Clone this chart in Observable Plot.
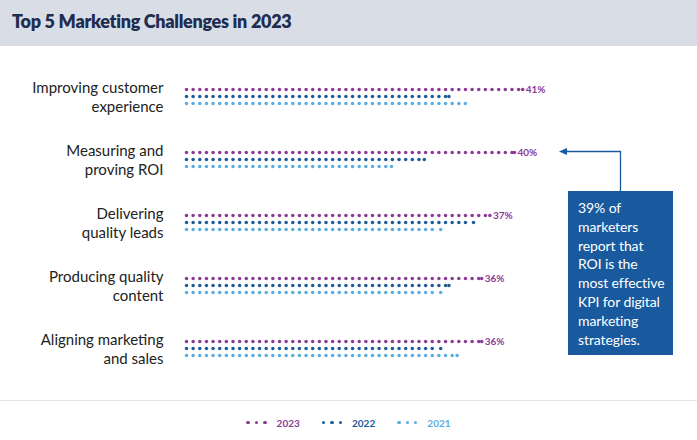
<!DOCTYPE html>
<html>
<head>
<meta charset="utf-8">
<script src="https://cdn.jsdelivr.net/npm/d3@7"></script>
<script src="https://cdn.jsdelivr.net/npm/@observablehq/plot@0.6"></script>
<style>
  html, body { margin: 0; padding: 0; background: #fff; }
  #wrap { position: relative; width: 697px; height: 440px; overflow: hidden; font-family: Lato, "Open Sans", sans-serif; }
  #header { height: 46px; background: #d9dee6; position: relative; }
  #header h1 { margin: 0; position: absolute; left: 12px; top: 10px; font-size: 18px; font-weight: 800; color: #1f2d50; letter-spacing: -0.3px; }
  #chart svg { display: block; }
  #rule { height: 0; border-top: 1px solid #e2e6eb; width: 697px; }
  #legend { height: 39px; display: flex; justify-content: center; align-items: center; gap: 22px; font-size: 10px; font-weight: 700; padding-top: 4px; box-sizing: border-box; }
  #legend .item { display: flex; align-items: center; gap: 10px; }
  #legend .dots { display: flex; gap: 5px; }
  #legend .dots span { width: 3.4px; height: 3.4px; border-radius: 50%; display: block; }
  #callout { position: absolute; left: 568px; top: 191px; width: 105px; height: 164px; background: #185a9d; color: #fff; font-size: 14px; line-height: 18.8px; box-sizing: border-box; padding: 8px 0 0 10px; letter-spacing: -0.1px; }
  #arrow { position: absolute; left: 0; top: 0; pointer-events: none; }
</style>
</head>
<body>
<div id="wrap">
  <div id="header"><h1>Top 5 Marketing Challenges in 2023</h1></div>
  <div id="chart"></div>
  <div id="rule"></div>
  <div id="legend"></div>
  <div id="callout"></div>
  <svg id="arrow" width="697" height="440"></svg>
</div>
<script>
const categories = [
  "Improving customer\nexperience",
  "Measuring and\nproving ROI",
  "Delivering\nquality leads",
  "Producing quality\ncontent",
  "Aligning marketing\nand sales"
];
const years = ["2023", "2022", "2021"];
const values2023 = [41, 40, 37, 36, 36];
const values2022 = [32, 29, 35, 32, 31];
const values2021 = [34, 25, 31, 31, 33];
const yearColors = ["#8b3a96", "#1c5b98", "#5aade0"];
const calloutLines = ["39% of", "marketers", "report that", "ROI is the", "most effective", "KPI for digital", "marketing", "strategies."];

const seriesByYear = {"2023": values2023, "2022": values2022, "2021": values2021};
const rows = [];
categories.forEach((c, i) => {
  years.forEach(y => rows.push({category: c, year: y, value: seriesByYear[y][i]}));
});

// dotted bars: evenly spaced dots from 0 to the value, final dot at the value
const step = 0.81;
const dots = [];
rows.forEach(r => {
  for (let k = 0; k * step < r.value - 0.35 * step; k++) dots.push({...r, v: k * step});
  dots.push({...r, v: r.value});
});

const chart = Plot.plot({
  width: 697,
  height: 354,
  marginLeft: 186,
  marginRight: 101,
  marginTop: 16,
  marginBottom: 20,
  style: {fontFamily: "Lato, 'Open Sans', sans-serif", background: "transparent"},
  x: {domain: [0, 50], axis: null},
  y: {domain: years, axis: null, padding: 0, insetTop: 24, insetBottom: 24},
  fy: {domain: categories, padding: 0, axis: null},
  color: {domain: years, range: yearColors},
  marks: [
    Plot.dot(dots, {x: "v", y: "year", fy: "category", r: 1.75, fill: "year", stroke: null}),
    Plot.text(rows.filter(d => d.year === "2023"), {
      x: "value", y: "year", fy: "category", text: d => d.value + "%",
      dx: 3, textAnchor: "start", fill: yearColors[0], fontSize: 10, fontWeight: 700
    }),
    Plot.text(categories, {
      x: () => 0, y: () => "2022", fy: d => d, text: d => d,
      dx: -23, textAnchor: "end", fontSize: 15, lineHeight: 1.27, fill: "#222"
    })
  ]
});
document.getElementById("chart").appendChild(chart);

// legend
const legend = d3.select("#legend");
years.forEach((y, i) => {
  const item = legend.append("div").attr("class", "item");
  const d = item.append("div").attr("class", "dots");
  for (let k = 0; k < 3; k++) d.append("span").style("background", yearColors[i]);
  item.append("div").text(y).style("color", yearColors[i]);
});

// callout
d3.select("#callout").selectAll("div").data(calloutLines).join("div").text(d => d);

// arrow
const arrow = d3.select("#arrow");
arrow.append("path").attr("d", "M620.5,191 V151.5 H566").attr("fill", "none").attr("stroke", "#185a9d").attr("stroke-width", 1.3);
arrow.append("path").attr("d", "M559,151.5 L567,148 L567,155 Z").attr("fill", "#185a9d");
</script>
</body>
</html>
